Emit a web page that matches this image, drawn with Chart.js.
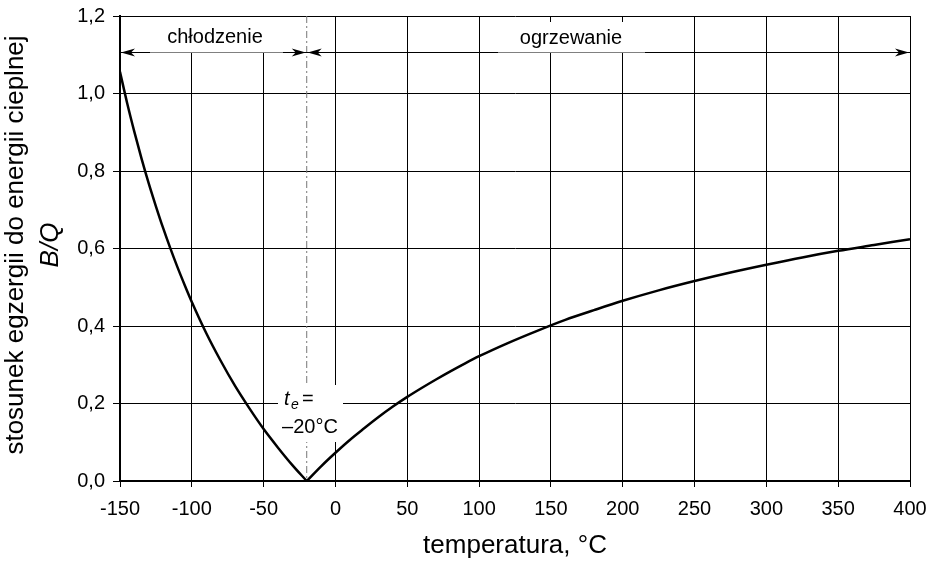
<!DOCTYPE html>
<html>
<head>
<meta charset="utf-8">
<script src="https://cdn.jsdelivr.net/npm/chart.js@4"></script>
<style>
  html, body { margin: 0; padding: 0; background: #fff; }
  #wrap { width: 928px; height: 562px; }
</style>
</head>
<body>
<div id="wrap"><canvas id="exergyChart" width="928" height="562"></canvas></div>
<script>
// temperatures (°C) and exergy/heat ratio
const coolingTemps = [-150, -145, -140, -135, -130, -125, -120, -115, -110, -105, -100, -90, -80, -70, -60, -50, -40, -30, -20];
const coolingRatio = [1.056, 0.975, 0.901, 0.832, 0.768, 0.709, 0.653, 0.601, 0.552, 0.506, 0.462, 0.382, 0.311, 0.246, 0.188, 0.134, 0.086, 0.041, 0.0];
const heatingTemps = [-20, -10, 0, 10, 20, 30, 40, 50, 60, 70, 80, 90, 100, 120, 140, 160, 180, 200, 225, 250, 275, 300, 325, 350, 375, 400];
const heatingRatio = [0.0, 0.038, 0.073, 0.106, 0.136, 0.165, 0.192, 0.217, 0.240, 0.262, 0.283, 0.303, 0.322, 0.356, 0.387, 0.416, 0.441, 0.465, 0.492, 0.516, 0.538, 0.558, 0.577, 0.594, 0.609, 0.624];

const ambientTemp = -20;
const arrowLevel = 1.107;
const coolingLabel = 'chłodzenie';
const heatingLabel = 'ogrzewanie';
const xTitle = 'temperatura, °C';
const yTitle = 'stosunek egzergii do energii cieplnej';

const FONT = '"Liberation Sans", Arial, sans-serif';

const toPoints = (xs, ys) => xs.map((x, i) => ({ x: x, y: ys[i] }));

function arrowHead(ctx, x, y, dir) {
  ctx.beginPath();
  ctx.moveTo(x, y);
  ctx.lineTo(x - dir * 14, y - 4);
  ctx.lineTo(x - dir * 10, y);
  ctx.lineTo(x - dir * 14, y + 4);
  ctx.closePath();
  ctx.fill();
}

// annotations drawn under the curve
const annotations = {
  id: 'annotations',
  beforeDatasetsDraw(chart) {
    const ctx = chart.ctx;
    const xs = chart.scales.x, ys = chart.scales.y;
    const area = chart.chartArea;
    const xe = xs.getPixelForValue(ambientTemp);
    const ya = Math.round(ys.getPixelForValue(arrowLevel)) + 0.5;
    ctx.save();

    // dash-dot line at ambient temperature
    ctx.strokeStyle = '#777';
    ctx.lineWidth = 1;
    ctx.setLineDash([7, 3, 2, 3]);
    ctx.beginPath();
    ctx.moveTo(xe, area.top);
    ctx.lineTo(xe, area.bottom);
    ctx.stroke();
    ctx.setLineDash([]);

    // arrow line
    ctx.strokeStyle = '#000';
    ctx.fillStyle = '#000';
    ctx.lineWidth = 1;
    ctx.beginPath();
    ctx.moveTo(area.left, ya);
    ctx.lineTo(area.right, ya);
    ctx.stroke();
    arrowHead(ctx, area.left + 1, ya, -1);
    arrowHead(ctx, xe - 1, ya, 1);
    arrowHead(ctx, xe + 1, ya, -1);
    arrowHead(ctx, area.right - 1, ya, 1);

    // label boxes
    ctx.fillStyle = '#fff';
    ctx.fillRect(150, area.top + 1, 133, ya - area.top - 1);
    ctx.fillRect(498, area.top + 6, 147, ya - area.top - 6);
    ctx.fillRect(278, 385, 65, 57);

    ctx.fillStyle = '#000';
    ctx.font = '20px ' + FONT;
    ctx.textAlign = 'center';
    ctx.textBaseline = 'middle';
    ctx.fillText(coolingLabel, 215, 37);
    ctx.fillText(heatingLabel, 571, 38);

    // t_e = -20°C
    ctx.textBaseline = 'alphabetic';
    ctx.textAlign = 'left';
    ctx.font = 'italic 20px ' + FONT;
    ctx.fillText('t', 284, 405);
    ctx.font = 'italic 14px ' + FONT;
    ctx.fillText('e', 291, 409);
    ctx.font = '20px ' + FONT;
    ctx.fillText('=', 302, 405);
    ctx.textAlign = 'center';
    ctx.fillText('\u201320°C', 310, 433);
    ctx.restore();
  },
  afterDraw(chart) {
    const ctx = chart.ctx;
    const area = chart.chartArea;
    ctx.save();
    ctx.fillStyle = '#000';
    ctx.textAlign = 'center';
    ctx.textBaseline = 'middle';
    ctx.font = '26px ' + FONT;
    ctx.fillText(xTitle, (area.left + area.right) / 2, 546);
    ctx.translate(16, 245);
    ctx.rotate(-Math.PI / 2);
    ctx.fillText(yTitle, 0, 0);
    ctx.font = 'italic 26px ' + FONT;
    ctx.fillText('B/Q', 0, 35);
    ctx.restore();
  }
};

new Chart(document.getElementById('exergyChart'), {
  type: 'line',
  data: {
    datasets: [
      { label: coolingLabel, data: toPoints(coolingTemps, coolingRatio) },
      { label: heatingLabel, data: toPoints(heatingTemps, heatingRatio) }
    ]
  },
  options: {
    responsive: false,
    animation: false,
    layout: { padding: { top: 16, right: 18, left: 0, bottom: 0 } },
    elements: {
      line: { borderColor: '#000', borderWidth: 2.5, cubicInterpolationMode: 'monotone', fill: false },
      point: { radius: 0 }
    },
    plugins: { legend: { display: false }, tooltip: { enabled: false } },
    scales: {
      x: {
        type: 'linear',
        min: -150,
        max: 400,
        afterFit: (s) => { s.height = 81; s.paddingLeft = 0; s.paddingRight = 0; },
        ticks: {
          stepSize: 50,
          color: '#000',
          font: { family: FONT, size: 20 },
          padding: 10,
          maxRotation: 0,
          callback: (v) => String(v)
        },
        grid: { color: '#000', lineWidth: 1, tickLength: 6 },
        border: { color: '#000', width: 2 }
      },
      y: {
        min: 0,
        max: 1.2,
        afterFit: (s) => { s.width = 120; s.paddingTop = 0; s.paddingBottom = 0; },
        ticks: {
          stepSize: 0.2,
          color: '#000',
          font: { family: FONT, size: 20 },
          padding: 8,
          callback: (v) => v.toFixed(1).replace('.', ',')
        },
        grid: { color: '#000', lineWidth: 1, tickLength: 7 },
        border: { color: '#000', width: 2 }
      }
    }
  },
  plugins: [annotations]
});
</script>
</body>
</html>
